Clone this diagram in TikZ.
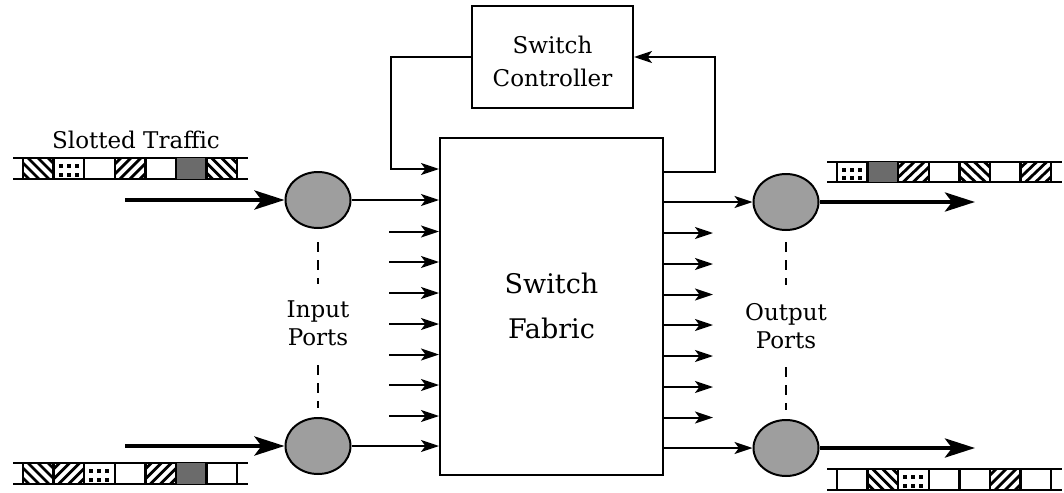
\documentclass[tikz,border=0pt]{standalone}
\usepackage{fontspec}
\setmainfont{DejaVu Serif}
\usetikzlibrary{arrows.meta,shapes.geometric}
\newcommand{\slotcellb}[4]{\begin{scope}\clip (#1,#2) rectangle (#3,#4);
  \foreach \k in {0,...,6} \draw[hatch] (#1-25+10*\k,#2) -- (#1-4+10*\k,#4);\end{scope}}
\newcommand{\slotcellf}[4]{\begin{scope}\clip (#1,#2) rectangle (#3,#4);
  \foreach \k in {0,...,6} \draw[hatch] (#1-25+10*\k,#4) -- (#1-4+10*\k,#2);\end{scope}}
\newcommand{\slotcelle}[4]{}
\newcommand{\slotcellg}[4]{\fill[black!58] (#1,#2) rectangle (#3,#4);}
\newcommand{\slotcelld}[4]{\foreach \j in {0,1,2}{
  \fill (#1+5+\j*8,#2+6) rectangle (#1+9+\j*8,#2+10);
  \fill (#1+5+\j*8,#4-6) rectangle (#1+9+\j*8,#4-2);}}
\newcommand{\slotstrip}[4]{%
  \draw[stripline] (#1-10,#2) -- (#1+225,#2) (#1-10,#3) -- (#1+225,#3);
  \foreach \t [count=\i from 0] in {#4} {
    \pgfmathsetmacro\xa{#1+\i*30.6}
    \pgfmathsetmacro\xb{#1+(\i+1)*30.6}
    \csname slotcell\t\endcsname{\xa}{#2}{\xb}{#3}
    \draw[stripline] (\xa,#2) -- (\xa,#3);
  }
  \draw[stripline] (#1+214.2,#2) -- (#1+214.2,#3);
}
\begin{document}
\begin{tikzpicture}[x=0.5pt,y=-0.5pt,
  arr/.style={line width=1pt,-{Stealth[length=9pt,width=6pt,inset=2.2pt]}},
  bigarr/.style={line width=2.2pt,-{Stealth[length=15pt,width=9.5pt,inset=3.5pt]}},
  port/.style={ellipse,draw,line width=1pt,fill=black!38,minimum width=32.5pt,minimum height=28pt,inner sep=0pt},
  box/.style={rectangle,draw,line width=1pt,inner sep=0pt},
  lbl/.style={font=\fontsize{11.5}{14}\selectfont,align=center,inner sep=0pt},
  stripline/.style={line width=1.2pt},
  hatch/.style={line width=1.4pt},
  dashl/.style={line width=1pt,dash pattern=on 5pt off 4pt}]
\useasboundingbox (0,0) rectangle (1064,492);

% main boxes
\node[box,minimum width=80.5pt,minimum height=51pt] (ctrl) at (552.5,57) {};
\node[lbl,font=\fontsize{11.5}{16.5}\selectfont] (ctrltxt) at (552.5,61.5) {Switch\\Controller};
\node[box,minimum width=111.5pt,minimum height=168.5pt,align=center,font=\fontsize{13.5}{22.5}\selectfont] (fab) at (551.5,306) {Switch\\Fabric};

% ports
\node[port] (in1) at (318,200) {};
\node[port] (in2) at (318,446) {};
\node[port] (out1) at (786,202) {};
\node[port] (out2) at (786,448) {};

% feedback loop
\coordinate (fbl) at (391,169);
\coordinate (fbr) at (715,172);
\draw[arr] (ctrl.west) -| (fbl) -- (fab.west |- fbl);
\draw[arr] (fab.east |- fbr) -- (fbr) |- (ctrl.east);

% port to fabric
\draw[arr] (in1.east) -- (fab.west |- in1.east);
\draw[arr] (in2.east) -- (fab.west |- in2.east);
\draw[arr] (fab.east |- out1.west) -- (out1.west);
\draw[arr] (fab.east |- out2.west) -- (out2.west);

% short arrows
\foreach \y [count=\n] in {231.5,262,293,324,354.5,385,416} {
  \coordinate (ia\n) at (389,\y);
  \draw[arr] (ia\n) -- (fab.west |- ia\n);
}
\foreach \y [count=\n] in {233,264,294.5,325,356,387,417.5} {
  \coordinate (oa\n) at (713,\y);
  \draw[arr] (fab.east |- oa\n) -- (oa\n);
}

% thick traffic arrows
\coordinate (s1) at (125,200);
\coordinate (s2) at (125,446);
\coordinate (e1) at (975,202);
\coordinate (e2) at (975,448);
\draw[bigarr] (s1) -- (in1.west);
\draw[bigarr] (s2) -- (in2.west);
\draw[bigarr] (out1.east) -- (e1);
\draw[bigarr] (out2.east) -- (e2);

% dashed port links and labels
\draw[dashl] (318,242) -- (318,284);
\draw[dashl] (318,365) -- (318,408);
\draw[dashl] (786,242) -- (786,285);
\draw[dashl] (786,367) -- (786,410);
\node[lbl] (inlbl) at (318,323) {Input\\Ports};
\node[lbl] (outlbl) at (786,326) {Output\\Ports};

% slotted traffic
\node[font=\fontsize{11.5}{14}\selectfont,inner sep=0pt] (slot) at (136,140) {Slotted Traffic};
\slotstrip{23}{158}{179}{b,d,e,f,e,g,b}
\slotstrip{23}{463}{484}{b,f,d,e,f,g,e}
\slotstrip{837}{162}{182}{d,g,f,e,b,e,f}
\slotstrip{837}{469}{490}{e,b,d,e,e,f,e}
\end{tikzpicture}
\end{document}
